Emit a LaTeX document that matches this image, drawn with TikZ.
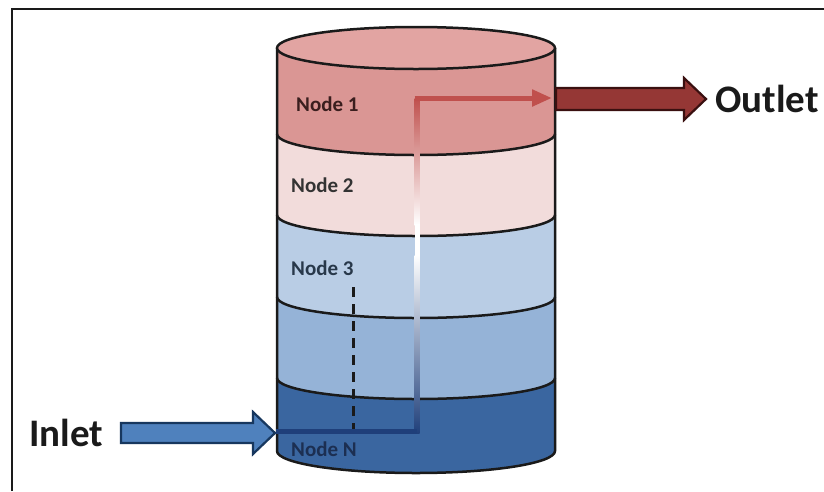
\documentclass[tikz,border=0pt]{standalone}
\usepackage{fontspec}
\setmainfont{Carlito}
\usetikzlibrary{arrows.meta}
\definecolor{topface}{HTML}{E2A4A2}
\definecolor{bandA}{HTML}{DA9694}
\definecolor{bandB}{HTML}{F2DCDB}
\definecolor{bandC}{HTML}{B9CDE5}
\definecolor{bandD}{HTML}{95B3D7}
\definecolor{bandE}{HTML}{3A66A0}
\definecolor{outline}{HTML}{1A1A1A}
\definecolor{flowred}{HTML}{C0504D}
\definecolor{flownavy}{HTML}{1F3F7A}
\definecolor{inletfill}{HTML}{4F81BD}
\definecolor{inletline}{HTML}{17375E}
\definecolor{outletfill}{HTML}{953735}
\definecolor{outletline}{HTML}{3A1010}
\definecolor{txt}{HTML}{1A1A1A}
\definecolor{lblA}{HTML}{3A1E1E}
\definecolor{lblB}{HTML}{333333}
\definecolor{lblC}{HTML}{28384A}
\definecolor{lblN}{HTML}{1C2F52}
\def\cylrx{139pt}
\def\cylry{21pt}
\begin{document}
\begin{tikzpicture}[x=1pt,y=-1pt,
  bandedge/.style={draw=outline,line width=2.5pt},
  nodelbl/.style={anchor=west,font=\fontsize{21}{23}\selectfont\bfseries,inner sep=0pt},
  biglbl/.style={anchor=west,font=\fontsize{39}{41}\selectfont\bfseries,text=txt,inner sep=0pt},
  flow/.style={line width=5pt}]
\useasboundingbox (0,0) rectangle (824,491);
\fill[white] (0,0) rectangle (824,491);
% frame
\draw[line width=2.5pt,outline] (12,491) -- (12,9) -- (824,9);
% bands
\fill[bandA] (277,48) arc[start angle=180,end angle=360,x radius=\cylrx,y radius=\cylry] -- (555,134) arc[start angle=0,end angle=-180,x radius=\cylrx,y radius=\cylry] -- cycle;
\fill[bandB] (277,134) arc[start angle=180,end angle=360,x radius=\cylrx,y radius=\cylry] -- (555,215) arc[start angle=0,end angle=-180,x radius=\cylrx,y radius=\cylry] -- cycle;
\fill[bandC] (277,215) arc[start angle=180,end angle=360,x radius=\cylrx,y radius=\cylry] -- (555,297) arc[start angle=0,end angle=-180,x radius=\cylrx,y radius=\cylry] -- cycle;
\fill[bandD] (277,297) arc[start angle=180,end angle=360,x radius=\cylrx,y radius=\cylry] -- (555,378) arc[start angle=0,end angle=-180,x radius=\cylrx,y radius=\cylry] -- cycle;
\fill[bandE] (277,378) arc[start angle=180,end angle=360,x radius=\cylrx,y radius=\cylry] -- (555,451) arc[start angle=0,end angle=-180,x radius=\cylrx,y radius=22pt] -- cycle;
% band edges
\foreach \yy in {134,215,297,378}
  \draw[bandedge] (277,\yy) arc[start angle=180,end angle=360,x radius=\cylrx,y radius=\cylry];
\draw[bandedge] (277,48) -- (277,451) arc[start angle=180,end angle=360,x radius=\cylrx,y radius=22pt] -- (555,48);
\draw[bandedge,fill=topface] (416,48) ellipse[x radius=\cylrx,y radius=\cylry];
% flow path
\coordinate (inTip) at (276,431);
\coordinate (turnLow) at (417,431);
\coordinate (turnTop) at (417,98);
\coordinate (outIn) at (552,98);
\coordinate (dashTop) at (353,287);
\coordinate (dashLow) at (353,429);
\draw[line width=3pt,outline,dash pattern=on 10pt off 7pt] (dashTop) -- (dashLow);
\shade[top color=flowred,bottom color=white] (414.5,98) rectangle (419.5,225);
\fill[white] (414.5,224) rectangle (419.5,256);
\shade[top color=white,bottom color=flownavy] (414.5,255) rectangle (419.5,433.5);
\draw[flow,flownavy] (inTip) -- (turnLow);
\draw[flow,flowred,-{Triangle[length=20pt,width=16pt]}] ([xshift=-2.5pt]turnTop) -- (outIn);
% labels
\node[nodelbl,text=lblA] (n1) at (296,104) {Node 1};
\node[nodelbl,text=lblB] (n2) at (291,185) {Node 2};
\node[nodelbl,text=lblC] (n3) at (291,268) {Node 3};
\node[nodelbl,text=lblN] (nN) at (291,449) {Node N};
% inlet arrow
\coordinate (inTail) at (121,433);
\draw[line width=2.2pt,draw=inletline,fill=inletfill,line join=miter]
  (121,423) -- (253,423) -- (253,412) -- (275,433) -- (253,454) -- (253,443) -- (121,443) -- cycle;
\node[biglbl] (inlet) at (29,433) {Inlet};
% outlet arrow
\draw[line width=2.2pt,draw=outletline,fill=outletfill,line join=miter]
  (556,88) -- (684,88) -- (684,78) -- (706,99) -- (684,120) -- (684,110) -- (556,110) -- cycle;
\node[biglbl] (outlet) at (715,99) {Outlet};
\end{tikzpicture}
\end{document}
